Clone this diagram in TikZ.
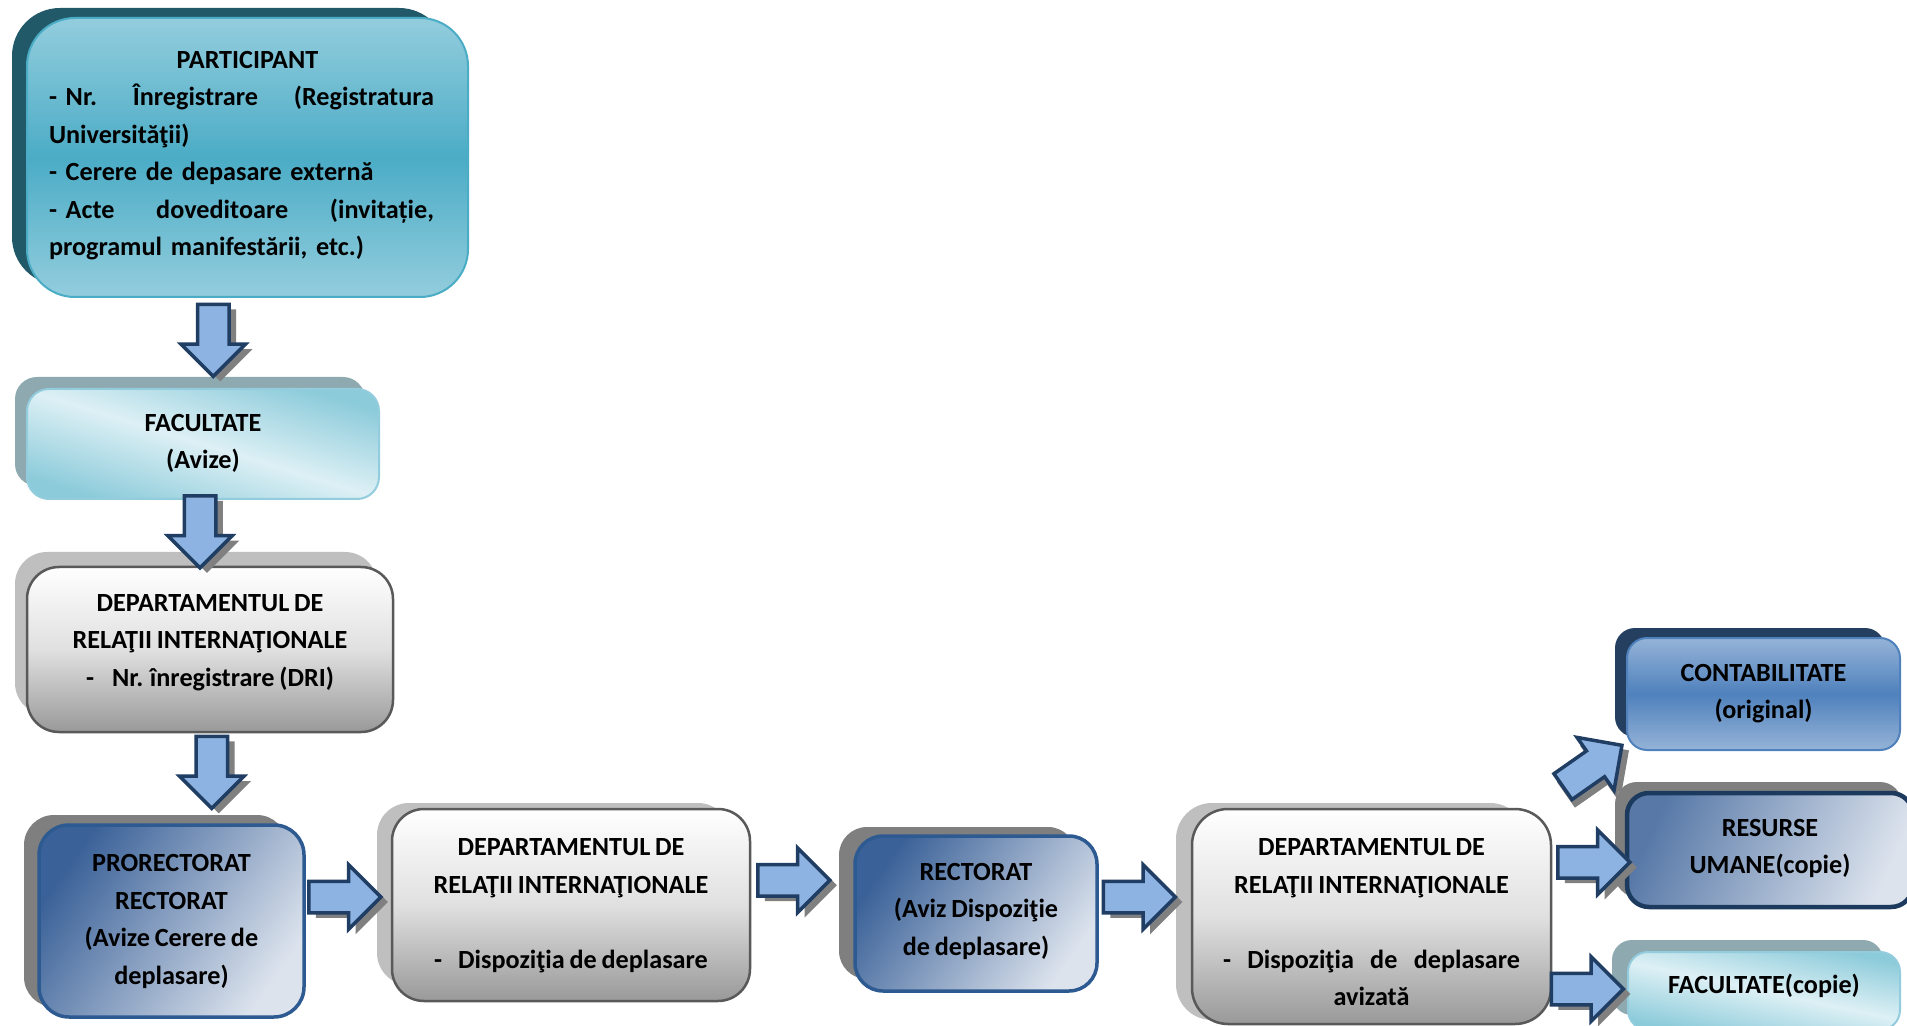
\documentclass[tikz,border=0pt]{standalone}
\usepackage{fontspec}
\setmainfont{Carlito}[WordSpace=0.8]
\usetikzlibrary{shapes.arrows,shadows,calc}
\pgfdeclarelayer{bg}
\pgfsetlayers{bg,main}
\definecolor{partA}{HTML}{93CDDD}
\definecolor{partB}{HTML}{4BACC6}
\definecolor{partS}{HTML}{215968}
\definecolor{facA}{HTML}{DDF0F5}
\definecolor{facB}{HTML}{8CCBDA}
\definecolor{facS}{HTML}{8EA9AF}
\definecolor{facL}{HTML}{93CDDD}
\definecolor{griS}{HTML}{BFBFBF}
\definecolor{griL}{HTML}{595959}
\definecolor{griB}{HTML}{999999}
\definecolor{griM}{HTML}{E0E0E0}
\definecolor{bluD}{HTML}{3A6198}
\definecolor{bluL}{HTML}{DCE3ED}
\definecolor{bluLine}{HTML}{2E5A92}
\definecolor{resLine}{HTML}{1B3A5E}
\definecolor{graS}{HTML}{7F7F7F}
\definecolor{contA}{HTML}{95B3D7}
\definecolor{contB}{HTML}{4F81BD}
\definecolor{contS}{HTML}{243F60}
\definecolor{arrF}{HTML}{8DB3E2}
\definecolor{arrL}{HTML}{203D63}
\definecolor{arrS}{HTML}{808080}
\tikzset{
  txt/.style={font=\fontsize{13.1}{18.75}\selectfont\bfseries, align=center, inner sep=0pt, text=black},
  strutted/.style={execute at begin node=\strut, execute at end node=\strut},
  boxbase/.style={inner sep=0pt, outer sep=0pt},
  partbox/.style={boxbase, draw=partB, line width=1pt, top color=partA, bottom color=partA, middle color=partB, rounded corners=24pt},
  facbox/.style={boxbase, draw=facL, line width=1pt, top color=facB, bottom color=facB, middle color=facA, shading angle=-17, rounded corners=11pt},
  dribox/.style={boxbase, draw=griL, line width=1.25pt, top color=white, bottom color=griB, middle color=griM, rounded corners=16pt},
  blubox/.style={boxbase, draw=bluLine, line width=1.75pt, left color=bluD, right color=bluL, shading angle=55, rounded corners=15pt},
  resbox/.style={boxbase, draw=resLine, line width=2.25pt, left color=bluD!85!white, right color=bluL, shading angle=65, rounded corners=11pt},
  contbox/.style={boxbase, draw=contB, line width=1pt, top color=contA, bottom color=contA, middle color=contB, rounded corners=10pt},
  arr/.style={single arrow, draw=arrL, fill=arrF, line width=1.75pt, inner sep=7pt,
    single arrow head extend=8.25pt, single arrow tip angle=90, minimum height=36pt,
    drop shadow={shadow xshift=3.5pt, shadow yshift=-2.5pt, fill=arrS, opacity=1}}
}
\begin{document}
\begin{tikzpicture}[x=0.5pt,y=-0.5pt]
\useasboundingbox (0,0) rectangle (1907,1026);
\clip (0,0) rectangle (1907,1026);

% boxes
\node[partbox, minimum width=220.5pt, minimum height=139.5pt] (part) at (247.5,157.5) {};
\node[facbox, minimum width=176pt, minimum height=55pt] (fac1) at (203,444) {};
\node[dribox, minimum width=183pt, minimum height=82.5pt] (dri1) at (210,649.5) {};
\node[blubox, minimum width=132.5pt, minimum height=96pt] (pror) at (171.5,921) {};
\node[dribox, minimum width=179pt, minimum height=96pt] (dri2) at (571,905) {};
\node[blubox, minimum width=121pt, minimum height=77.5pt, rounded corners=14pt] (rect) at (976,913.5) {};
\node[dribox, minimum width=179.5pt, minimum height=107.5pt, rounded corners=18pt] (dri3) at (1371.5,916.5) {};
\node[contbox, minimum width=136.5pt, minimum height=56pt] (cont) at (1763.5,694) {};
\node[resbox, minimum width=143pt, minimum height=57pt] (res) at (1770,850) {};
\node[facbox, minimum width=136pt, minimum height=39pt, rounded corners=10pt, shading angle=-12] (fac2) at (1764,991) {};

% background and shadows
\begin{pgfonlayer}{bg}
\fill[white] (0,0) rectangle (1907,1026);
\fill[partS, rounded corners=24pt] ($(part.north west)+(-15,-10)$) rectangle ($(part.south east)+(-21,-12)$);
\fill[facS, rounded corners=11pt] ($(fac1.north west)+(-12,-12)$) rectangle ($(fac1.south east)+(-14,-13)$);
\fill[griS, rounded corners=16pt] ($(dri1.north west)+(-12,-15)$) rectangle ($(dri1.south east)+(-16,-17)$);
\fill[graS, rounded corners=15pt] ($(pror.north west)+(-15,-10)$) rectangle ($(pror.south east)+(-17,-10)$);
\fill[griS, rounded corners=16pt] ($(dri2.north west)+(-15,-6)$) rectangle ($(dri2.south east)+(-20,-16)$);
\fill[graS, rounded corners=14pt] ($(rect.north west)+(-16,-9)$) rectangle ($(rect.south east)+(-21,-12)$);
\fill[griS, rounded corners=18pt] ($(dri3.north west)+(-16,-6)$) rectangle ($(dri3.south east)+(-25,-4)$);
\fill[contS, rounded corners=10pt] ($(cont.north west)+(-12,-10)$) rectangle ($(cont.south east)+(-15,-13)$);
\fill[graS, rounded corners=11pt] ($(res.north west)+(-12,-11)$) rectangle ($(res.south east)+(-11,-10)$);
\fill[facS, rounded corners=10pt] ($(fac2.north west)+(-16,-12)$) rectangle ($(fac2.south east)+(-17,-15)$);
\end{pgfonlayer}

% texts
\node[txt, text width=192.5pt, align=left] (part-t) at ([xshift=-3pt,yshift=1pt]part.center)
  {\hfill\hspace{6pt}PARTICIPANT\hfill\mbox{}\\
   - Nr.\hfill Înregistrare\hfill (Registratura\\
   Universităţii)\\
   - Cerere de depasare externă\\
   - Acte\hfill doveditoare\hfill (invitație,\\
   programul manifestării, etc.)};
\node[txt, strutted] (fac1-t) at ([yshift=-1.5pt]fac1.center) {FACULTATE\\(Avize)};
\node[txt, strutted] (dri1-t) at ([yshift=1.75pt]dri1.center)
  {DEPARTAMENTUL DE\\RELAŢII INTERNAŢIONALE\\-\hspace{9pt}Nr. înregistrare (DRI)\hspace{6pt}};
\node[txt, strutted] (pror-t) at ([yshift=-1.9pt]pror.center)
  {PRORECTORAT\\RECTORAT\\(Avize Cerere de\\deplasare)};
\node[txt, strutted] (dri2-t) at ([yshift=-2pt]dri2.center)
  {DEPARTAMENTUL DE\\RELAŢII INTERNAŢIONALE\\[18.75pt]-\hspace{8pt}Dispoziţia de deplasare};
\node[txt, strutted] (rect-t) at ([yshift=-0.75pt]rect.center)
  {RECTORAT\\(Aviz Dispoziţie\\de deplasare)};
\node[txt, strutted] (dri3-t) at ([yshift=-5.75pt]dri3.center)
  {DEPARTAMENTUL DE\\RELAŢII INTERNAŢIONALE\\[18.75pt]\makebox[148.5pt]{-\hfill Dispoziţia\hfill de\hfill deplasare}\\avizată};
\node[txt, strutted] (cont-t) at ([yshift=-1.5pt]cont.center) {CONTABILITATE\\(original)};
\node[txt, strutted] (res-t) at ([yshift=-1pt]res.center) {RESURSE\\UMANE(copie)};
\node[txt, strutted] (fac2-t) at ([yshift=2.5pt]fac2.center) {FACULTATE(copie)};

% block arrows
\node[arr, shape border rotate=270] (ar1) at ($(part.south)!0.5!(fac1.north)+(-12,-10.5)$) {};
\node[arr, shape border rotate=270] (ar2) at ($(fac1.south)!0.5!(dri1.north)+(-6.5,-9)$) {};
\node[arr, shape border rotate=270] (ar3) at ($(dri1.south)!0.5!(pror.north)+(21,-14)$) {};
\node[arr] (ar4) at ($(pror.east)!0.5!(dri2.west)+(-11,-16)$) {};
\node[arr] (ar5) at ($(dri2.east)!0.5!(rect.west)+(-16.5,-29)$) {};
\node[arr] (ar6) at ($(rect.east)!0.5!(dri3.west)+(-13,-18)$) {};
\node[arr, rotate=35, drop shadow={shadow xshift=1.43pt, shadow yshift=-4.06pt, fill=arrS, opacity=1}] (ar7) at ($(dri3.north east)!0.5!(cont.south west)+(-3,-9)$) {};
\node[arr] (ar8) at ($(dri3.east)!0.5!(res.west)+(-3,-21)$) {};
\node[arr] (ar9) at ($(dri3.south east)!0.5!(fac2.west)+(-10,-18.5)$) {};
\end{tikzpicture}
\end{document}
